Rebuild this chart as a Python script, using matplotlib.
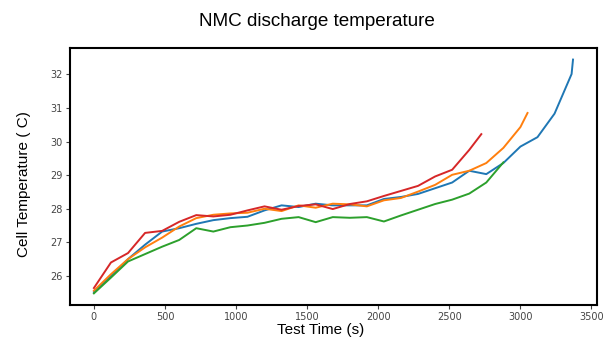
import matplotlib
matplotlib.use("Agg")
import matplotlib.pyplot as plt

# sample times (s) and cell temperatures (C) for the four runs
t_blue = [0, 120, 240, 360, 480, 600, 720, 840, 960, 1080, 1200, 1320, 1440, 1560, 1680,
          1800, 1920, 2040, 2160, 2280, 2400, 2520, 2640, 2760, 2880, 3000, 3120, 3240, 3360, 3370]
y_blue = [25.52, 26.0, 26.5, 26.93, 27.32, 27.42, 27.55, 27.66, 27.72, 27.76, 27.95, 28.1, 28.05, 28.15, 28.1,
          28.1, 28.1, 28.29, 28.35, 28.44, 28.61, 28.78, 29.13, 29.03, 29.36, 29.85, 30.13, 30.83, 32.01, 32.44]

t_orange = [0, 120, 240, 360, 480, 600, 720, 840, 960, 1080, 1200, 1320, 1440, 1560, 1680,
            1800, 1920, 2040, 2160, 2280, 2400, 2520, 2640, 2760, 2880, 3000, 3050]
y_orange = [25.56, 26.05, 26.5, 26.85, 27.14, 27.47, 27.72, 27.82, 27.86, 27.88, 28.0, 27.93, 28.1, 28.03, 28.15,
            28.13, 28.07, 28.25, 28.32, 28.51, 28.71, 29.01, 29.13, 29.36, 29.81, 30.43, 30.85]

t_green = [0, 120, 240, 360, 480, 600, 720, 840, 960, 1080, 1200, 1320, 1440, 1560, 1680,
           1800, 1920, 2040, 2160, 2280, 2400, 2520, 2640, 2760, 2880]
y_green = [25.48, 25.95, 26.43, 26.65, 26.87, 27.07, 27.42, 27.32, 27.45, 27.5, 27.58, 27.7, 27.75, 27.6, 27.75,
           27.73, 27.75, 27.62, 27.8, 27.97, 28.14, 28.27, 28.45, 28.78, 29.38]

t_red = [0, 120, 240, 360, 480, 600, 720, 840, 960, 1080, 1200, 1320, 1440, 1560, 1680,
         1800, 1920, 2040, 2160, 2280, 2400, 2520, 2640, 2725]
y_red = [25.64, 26.4, 26.68, 27.28, 27.34, 27.61, 27.81, 27.77, 27.82, 27.95, 28.07, 27.97, 28.08, 28.13, 27.99,
         28.14, 28.22, 28.38, 28.53, 28.68, 28.96, 29.16, 29.75, 30.22]

fig = plt.figure(figsize=(6.03, 3.42), dpi=100)
ax = fig.add_axes([0.116, 0.108, 0.874, 0.752])

ax.plot(t_blue, y_blue, color="tab:blue", lw=1.4)
ax.plot(t_orange, y_orange, color="tab:orange", lw=1.4)
ax.plot(t_green, y_green, color="tab:green", lw=1.4)
ax.plot(t_red, y_red, color="tab:red", lw=1.4)

ax.set_xticks(range(0, 3501, 500))
ax.set_yticks(range(26, 33))
ax.tick_params(labelsize=7, colors="#444444", length=3, width=0.8, pad=2)
for s in ax.spines.values():
    s.set_linewidth(1.5)
    s.set_color("black")

fig.text(317 / 603, 1 - 21 / 342, "NMC discharge temperature", ha="center", va="center",
         fontsize=13.6, family="Liberation Sans")
fig.text(321 / 603, 1 - 330 / 342, "Test Time (s)", ha="center", va="center",
         fontsize=11, family="Liberation Sans")
fig.text(24 / 603, 1 - 184 / 342, "Cell Temperature ( C)", ha="center", va="center",
         rotation=90, fontsize=11, family="Liberation Sans")

fig.savefig("out.png", dpi=100)
